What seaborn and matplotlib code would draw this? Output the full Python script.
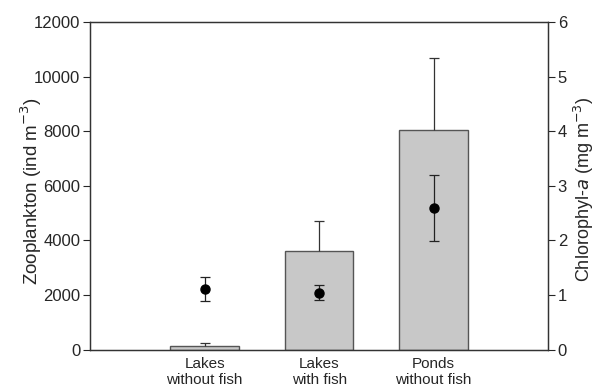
import numpy as np
import pandas as pd
import matplotlib
matplotlib.use("Agg")
import matplotlib.pyplot as plt
import seaborn as sns

# Data
groups = ["Lakes\nwithout fish", "Lakes\nwith fish", "Ponds\nwithout fish"]
zoo_mean = [140, 3620, 8050]
zoo_se = [90, 1080, 2630]
chl_mean = [1.11, 1.04, 2.59]
chl_se = [0.22, 0.14, 0.60]

sns.set_style("ticks")
plt.rcParams["font.family"] = ["Liberation Sans", "DejaVu Sans"]

fig = plt.figure(figsize=(5.97, 3.89), dpi=100)
ax = fig.add_axes([0.151, 0.1015, 0.767, 0.8415])

df = pd.DataFrame({"group": groups, "zoo": zoo_mean})
sns.barplot(data=df, x="group", y="zoo", ax=ax, color="#c8c8c8",
            edgecolor="#555555", linewidth=1.0, width=0.6, saturation=1)

# upper error bars only (hide the cap at bar top)
pos = np.arange(len(groups))
eb = ax.errorbar(pos, zoo_mean, yerr=[np.zeros(3), zoo_se], fmt="none",
                 ecolor="#333333", elinewidth=0.9, capsize=3.5, capthick=0.9)
eb[1][0].set_visible(False)

ax.set_xlim(-1, 3)
ax.set_ylim(0, 12000)
ax.set_yticks(np.arange(0, 12001, 2000))
ax.set_xlabel("")
ax.set_ylabel("Zooplankton (ind m$^{-3}$)", fontsize=13.5)
ax.yaxis.set_label_coords(-0.1, 0.485)
ax.tick_params(axis="x", length=0, labelsize=11, pad=5.5)
ax.tick_params(axis="y", labelsize=12, length=5, width=0.8, direction="out", pad=2)

# chlorophyll on the right axis
ax2 = ax.twinx()
ax2.errorbar(pos, chl_mean, yerr=chl_se, fmt="o", color="black",
             markersize=6.5, ecolor="#222222", elinewidth=0.9,
             capsize=3.5, capthick=0.9)
ax2.set_ylim(0, 6)
ax2.set_yticks(range(0, 7))
ax2.set_ylabel("Chlorophyl-$a$ (mg m$^{-3}$)", fontsize=13)
ax2.yaxis.set_label_coords(1.052, 0.49)
ax2.tick_params(axis="y", labelsize=12, length=5, width=0.8, direction="out", pad=2)

for a in (ax, ax2):
    for s in a.spines.values():
        s.set_visible(True)
        s.set_linewidth(0.9)
        s.set_color("#333333")

fig.savefig("out.png", dpi=100)
